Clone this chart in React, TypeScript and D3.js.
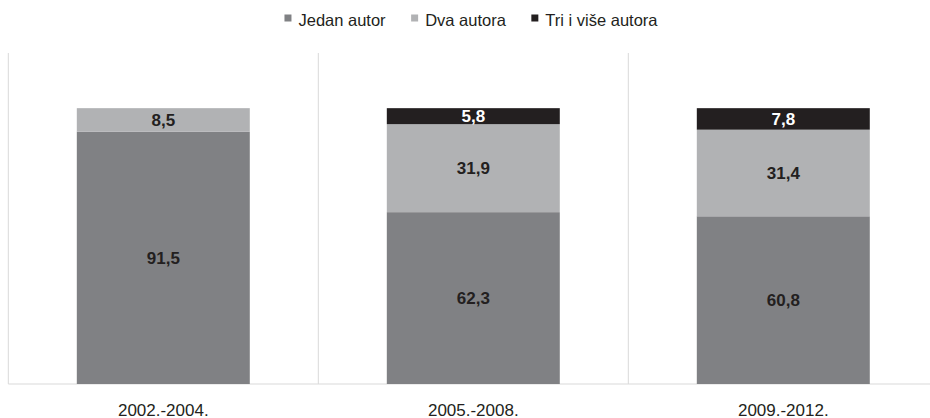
import React, { useRef, useEffect } from "react";
import { select, scaleBand, scaleLinear, stack } from "d3";

// data
const categories = ["2002.-2004.", "2005.-2008.", "2009.-2012."];
const jedanAutor = [91.5, 62.3, 60.8];
const dvaAutora = [8.5, 31.9, 31.4];
const triIViseAutora = [0, 5.8, 7.8];
const seriesNames = ["Jedan autor", "Dva autora", "Tri i više autora"];

const colors = ["#808184", "#b1b2b4", "#231f20"];
const labelColors = ["#231f20", "#231f20", "#ffffff"];

const width = 930;
const height = 418;
const font = "'Liberation Sans', Arial, sans-serif";

const App: React.FC = () => {
  const svgRef = useRef<SVGSVGElement>(null);

  useEffect(() => {
    const svg = select(svgRef.current);
    svg.selectAll("*").remove();

    const plot = { left: 8.3, right: 938.3, top: 53, bottom: 384 };

    // category bands (full width, used for separators)
    const xBand = scaleBand<string>()
      .domain(categories)
      .range([plot.left, plot.right]);

    // bars inside bands
    const x = scaleBand<string>()
      .domain(categories)
      .range([plot.left, plot.right])
      .paddingInner(0.442)
      .paddingOuter(0.221);

    const y = scaleLinear().domain([0, 120]).range([plot.bottom, plot.top]);

    const rows = categories.map((c, i) => ({
      cat: c,
      s0: jedanAutor[i],
      s1: dvaAutora[i],
      s2: triIViseAutora[i],
    }));
    const keys = ["s0", "s1", "s2"];
    const layers = stack<any>().keys(keys)(rows);

    // separators
    const grid = svg.append("g");
    categories.forEach((c) => {
      grid
        .append("line")
        .attr("x1", xBand(c)!)
        .attr("x2", xBand(c)!)
        .attr("y1", plot.top)
        .attr("y2", plot.bottom)
        .attr("stroke", "#d9d9d9")
        .attr("stroke-width", 1);
    });
    grid
      .append("line")
      .attr("x1", plot.left)
      .attr("x2", plot.right)
      .attr("y1", plot.bottom)
      .attr("y2", plot.bottom)
      .attr("stroke", "#d9d9d9")
      .attr("stroke-width", 1.2);

    // bars
    layers.forEach((layer, li) => {
      const g = svg.append("g");
      layer.forEach((d, i) => {
        const v = d[1] - d[0];
        if (v <= 0) return;
        g.append("rect")
          .attr("x", x(categories[i])!)
          .attr("y", y(d[1]))
          .attr("width", x.bandwidth())
          .attr("height", y(d[0]) - y(d[1]))
          .attr("fill", colors[li]);
        g.append("text")
          .attr("x", x(categories[i])! + x.bandwidth() / 2)
          .attr("y", (y(d[0]) + y(d[1])) / 2)
          .attr("dy", "0.35em")
          .attr("text-anchor", "middle")
          .attr("font-family", font)
          .attr("font-weight", "bold")
          .attr("font-size", 17)
          .attr("fill", labelColors[li])
          .text(v.toFixed(1).replace(".", ","));
      });
    });

    // category labels
    categories.forEach((c) => {
      svg
        .append("text")
        .attr("x", x(c)! + x.bandwidth() / 2)
        .attr("y", 415.5)
        .attr("text-anchor", "middle")
        .attr("font-family", font)
        .attr("font-size", 17)
        .attr("fill", "#231f20")
        .text(c);
    });

    // legend, centred
    const legend = svg.append("g");
    let cursor = 0;
    seriesNames.forEach((name, i) => {
      const item = legend.append("g").attr("transform", `translate(${cursor},0)`);
      item
        .append("rect")
        .attr("x", 0)
        .attr("y", 14.5)
        .attr("width", 7)
        .attr("height", 7)
        .attr("fill", colors[i]);
      const t = item
        .append("text")
        .attr("x", 14)
        .attr("y", 25.5)
        .attr("font-family", font)
        .attr("font-size", 16.5)
        .attr("fill", "#231f20")
        .text(name);
      const w = (t.node() as SVGTextElement).getComputedTextLength();
      cursor += 14 + w + 25.5;
    });
    const legendWidth = cursor - 25.5;
    legend.attr("transform", `translate(${471 - legendWidth / 2},0)`);
  }, []);

  return (
    <svg
      ref={svgRef}
      width={width}
      height={height}
      viewBox={`0 0 ${width} ${height}`}
      style={{ position: "absolute", left: 0, top: 0, background: "#fff" }}
    />
  );
};

export default App;
